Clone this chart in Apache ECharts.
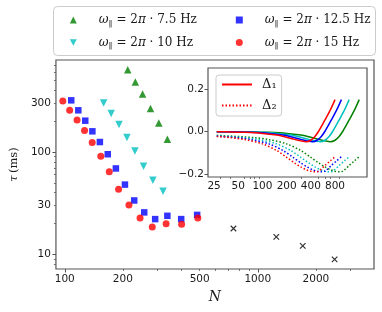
<!DOCTYPE html>
<html><head><meta charset="utf-8">
<script src="https://cdn.jsdelivr.net/npm/echarts@6/dist/echarts.min.js"></script>
<style>html,body{margin:0;padding:0;background:#fff}#c{width:382px;height:312px}</style>
</head><body><div id="c"></div>
<script>
// ---------- main panel data (N, tau in ms) ----------
const N_w75 = [212, 232, 253, 278, 307, 340];
const tau_w75 = [635, 481, 367, 265, 192, 133];
const N_w10 = [159, 174, 191, 210, 231, 256, 286, 323];
const tau_w10 = [300, 237, 185, 138, 102, 72.6, 53, 41.4];
const N_w125 = [108, 117.5, 127.7, 139, 152, 167, 184, 205, 229, 258, 294, 340, 401, 485];
const tau_w125 = [319, 255, 202, 159, 125, 95, 69, 48, 33.6, 25.7, 22.1, 23.8, 22.1, 24.3];
const N_w15 = [97.7, 106, 115.8, 126.6, 138.7, 153.7, 170, 190, 215, 245.5, 284, 335, 403, 489];
const tau_w15 = [314, 255, 205, 162, 124, 91, 64, 43.3, 30.4, 22.6, 18.5, 19.9, 19.7, 22.6];
const N_extra = [748, 1247, 1710, 2500];
const tau_extra = [17.9, 14.8, 12.1, 8.94];

// ---------- main panel axes ----------
const xRange = [90, 4000];
const yRange = [7.2, 790];
const xTickLabels = [100, 200, 500, 1000, 2000];
const xMajorTicks = [100, 1000];
const xMinorTicks = [200, 300, 400, 500, 600, 700, 800, 900, 2000, 3000];
const yTickLabels = [10, 30, 100, 300];
const yMajorTicks = [10, 100];
const yMinorTicks = [8, 9, 20, 30, 40, 50, 60, 70, 80, 90, 200, 300, 400, 500, 600, 700];
const freqLabels = ['7.5', '10', '12.5', '15'];

// ---------- inset data (Delta_1 solid, Delta_2 dotted) ----------
const N_red = [27, 40, 60, 100, 150, 200, 250, 300, 350, 400, 450, 500, 600, 700, 800];
const d1_red = [0.000, -0.001, -0.003, -0.008, -0.016, -0.026, -0.036, -0.043, -0.047, -0.040, -0.022, 0.002, 0.055, 0.102, 0.150];
const d2_red = [-0.022, -0.028, -0.037, -0.057, -0.088, -0.120, -0.146, -0.165, -0.178, -0.185, -0.188, -0.185, -0.158, -0.136, -0.117];
const N_blue = [27, 48, 72, 120, 180, 240, 300, 360, 420, 480, 540, 600, 720, 840, 960];
const d1_blue = [0.000, -0.001, -0.003, -0.008, -0.016, -0.026, -0.036, -0.043, -0.047, -0.040, -0.022, 0.002, 0.055, 0.102, 0.150];
const d2_blue = [-0.021, -0.028, -0.037, -0.057, -0.088, -0.120, -0.146, -0.165, -0.178, -0.185, -0.188, -0.185, -0.158, -0.136, -0.117];
const N_cyan = [27, 60, 90, 150, 225, 300, 375, 450, 525, 600, 675, 750, 900, 1050, 1200];
const d1_cyan = [0.000, -0.001, -0.003, -0.008, -0.016, -0.026, -0.036, -0.043, -0.047, -0.040, -0.022, 0.002, 0.055, 0.102, 0.150];
const d2_cyan = [-0.019, -0.028, -0.037, -0.057, -0.088, -0.120, -0.146, -0.165, -0.178, -0.185, -0.188, -0.185, -0.158, -0.136, -0.117];
const N_green = [27, 80, 120, 200, 300, 400, 500, 600, 700, 800, 900, 1000, 1200, 1400, 1600];
const d1_green = [0.000, -0.001, -0.003, -0.008, -0.016, -0.026, -0.036, -0.043, -0.047, -0.040, -0.022, 0.002, 0.055, 0.102, 0.150];
const d2_green = [-0.017, -0.028, -0.037, -0.057, -0.088, -0.120, -0.146, -0.165, -0.178, -0.185, -0.188, -0.185, -0.158, -0.136, -0.117];

const insetXRange = [21, 2000];
const insetYRange = [-0.212, 0.298];
const insetXLabels = [25, 50, 100, 200, 400, 800];
const insetXMinor = [30, 40, 60, 70, 80, 90, 300, 500, 600, 700, 900];
const insetYTicks = [-0.2, 0, 0.2];

// ---------- build ----------
const L = Math.log10;
const pairs = (xs, ys) => xs.map((x, i) => [L(x), L(ys[i])]);
const ipairs = (xs, ys) => xs.map((x, i) => [L(x), ys[i]]);
const fmtPow = v => String(Math.round(Math.pow(10, v)));
const AX = '#555', TXT = '#1a1a1a';
const tickFont = { fontFamily: 'DejaVu Sans', fontSize: 10.5, color: TXT };
const serif = 'DejaVu Serif';
const DOWN_TRI = 'path://M0,0L10,0L5,9Z';

const chart = echarts.init(document.getElementById('c'), null, { renderer: 'canvas' });

const mainSeries = [
  { name: '7.5', type: 'scatter', xAxisIndex: 0, yAxisIndex: 0, symbol: 'triangle', symbolSize: 7.5,
    itemStyle: { color: '#008000' }, data: pairs(N_w75, tau_w75) },
  { name: '10', type: 'scatter', xAxisIndex: 0, yAxisIndex: 0, symbol: 'triangle', symbolRotate: 180, symbolSize: 7.5,
    itemStyle: { color: '#00bfbf' }, data: pairs(N_w10, tau_w10) },
  { name: '12.5', type: 'scatter', xAxisIndex: 0, yAxisIndex: 0, symbol: 'rect', symbolSize: 6.5,
    itemStyle: { color: '#0000ff' }, data: pairs(N_w125, tau_w125) },
  { name: '15', type: 'scatter', xAxisIndex: 0, yAxisIndex: 0, symbol: 'circle', symbolSize: 7,
    itemStyle: { color: '#ff0000' }, data: pairs(N_w15, tau_w15) },
  { name: 'extra', type: 'scatter', xAxisIndex: 0, yAxisIndex: 0, symbol: 'path://M0,0L10,10M10,0L0,10', symbolSize: 5.5,
    itemStyle: { color: 'rgba(0,0,0,0)', borderColor: '#000', borderWidth: 1.2 }, data: pairs(N_extra, tau_extra) }
];

function insetLine(name, xs, ys, color, dotted) {
  return { name, type: 'line', xAxisIndex: 2, yAxisIndex: 2, symbol: 'none', smooth: 0.3,
    lineStyle: { color, width: 1.5, type: dotted ? [1.5, 2] : 'solid', cap: 'butt' },
    itemStyle: { color }, data: ipairs(xs, ys), z: 5 };
}
const insetSeries = [
  insetLine('Δ₂ g', N_green, d2_green, '#008000', true),
  insetLine('Δ₂ c', N_cyan, d2_cyan, '#00bfbf', true),
  insetLine('Δ₂ b', N_blue, d2_blue, '#0000ff', true),
  insetLine('Δ₂', N_red, d2_red, '#ff0000', true),
  insetLine('Δ₁ g', N_green, d1_green, '#008000', false),
  insetLine('Δ₁ c', N_cyan, d1_cyan, '#00bfbf', false),
  insetLine('Δ₁ b', N_blue, d1_blue, '#0000ff', false),
  insetLine('Δ₁', N_red, d1_red, '#ff0000', false)
];

const legendRich = {
  i: { fontFamily: serif, fontStyle: 'italic', fontSize: 12, color: TXT },
  s: { fontFamily: serif, fontSize: 8, color: TXT, padding: [7, 0, 0, 0] }
};
const legendFmt = n => '{i|ω}{s|‖} = 2{i|π} · ' + n + ' Hz';
const mainLegend = (data, left) => ({
  data, left, top: 14, orient: 'vertical', padding: 0, itemGap: 9, itemWidth: 7, itemHeight: 7,
  formatter: legendFmt, selectedMode: false,
  textStyle: { fontFamily: serif, fontSize: 12, color: TXT, rich: legendRich, padding: [0, 0, 0, 17] }
});

const option = {
  animation: false,
  backgroundColor: '#fff',
  graphic: [{ type: 'rect', left: 53, top: 6, shape: { width: 322, height: 49, r: 4 },
    style: { fill: '#fff', stroke: '#cccccc', lineWidth: 1 }, z: -1 }],
  legend: [
    mainLegend([{ name: freqLabels[0], icon: 'triangle' }, { name: freqLabels[1], icon: DOWN_TRI }], 69.8),
    mainLegend([{ name: freqLabels[2], icon: 'rect' }, { name: freqLabels[3], icon: 'circle' }], 235.8),
    { data: ['Δ₁', 'Δ₂'], left: 216, top: 75, orient: 'vertical', padding: [3, 5, 4, 5], itemGap: 8,
      itemWidth: 30, itemHeight: 14, selectedMode: false, backgroundColor: '#fff', borderColor: '#cccccc',
      borderWidth: 1, borderRadius: 3, z: 10, itemStyle: { opacity: 0 },
      textStyle: { fontFamily: serif, fontSize: 13, color: TXT, padding: [0, 0, 0, 5] } }
  ],
  grid: [
    { left: 53, top: 60, right: 8, bottom: 43, show: true, borderColor: AX, borderWidth: 1.2, backgroundColor: '#fff' },
    { left: 208, top: 68, right: 15, bottom: 135, show: true, borderColor: AX, borderWidth: 1.2, backgroundColor: '#fff', z: 3 }
  ],
  xAxis: [
    { type: 'value', gridIndex: 0, position: 'bottom', min: L(xRange[0]), max: L(xRange[1]), splitLine: { show: false },
      axisLine: { show: false },
      axisTick: { customValues: xMajorTicks.map(L), length: 3.5, lineStyle: { color: AX, width: 1 } },
      axisLabel: { customValues: xTickLabels.map(L), formatter: fmtPow, margin: 5, ...tickFont },
      name: 'N', nameLocation: 'middle', nameGap: 19,
      nameTextStyle: { fontFamily: serif, fontStyle: 'italic', fontSize: 14, color: TXT } },
    { type: 'value', gridIndex: 0, position: 'bottom', min: L(xRange[0]), max: L(xRange[1]), splitLine: { show: false },
      axisLine: { show: false }, axisLabel: { show: false },
      axisTick: { customValues: xMinorTicks.map(L), length: 2, lineStyle: { color: AX, width: 0.8 } } },
    { type: 'value', gridIndex: 1, position: 'bottom', min: L(insetXRange[0]), max: L(insetXRange[1]), splitLine: { show: false },
      axisLine: { show: false },
      axisTick: { customValues: insetXLabels.map(L), length: 3.5, lineStyle: { color: AX, width: 1 } },
      axisLabel: { customValues: insetXLabels.map(L), formatter: fmtPow, margin: 4, ...tickFont } },
    { type: 'value', gridIndex: 1, position: 'bottom', min: L(insetXRange[0]), max: L(insetXRange[1]), splitLine: { show: false },
      axisLine: { show: false }, axisLabel: { show: false },
      axisTick: { customValues: insetXMinor.map(L), length: 2, lineStyle: { color: AX, width: 0.8 } } }
  ],
  yAxis: [
    { type: 'value', gridIndex: 0, position: 'left', min: L(yRange[0]), max: L(yRange[1]), splitLine: { show: false },
      axisLine: { show: false },
      axisTick: { customValues: yMajorTicks.map(L), length: 3.5, lineStyle: { color: AX, width: 1 } },
      axisLabel: { customValues: yTickLabels.map(L), formatter: fmtPow, margin: 5, ...tickFont },
      name: '{i|τ}\u2009(ms)', nameLocation: 'middle', nameGap: 33,
      nameTextStyle: { fontFamily: serif, fontSize: 11.5, color: TXT,
        rich: { i: { fontFamily: serif, fontStyle: 'italic', fontSize: 11.5, color: TXT } } } },
    { type: 'value', gridIndex: 0, position: 'left', min: L(yRange[0]), max: L(yRange[1]), splitLine: { show: false },
      axisLine: { show: false }, axisLabel: { show: false },
      axisTick: { customValues: yMinorTicks.map(L), length: 2, lineStyle: { color: AX, width: 0.8 } } },
    { type: 'value', gridIndex: 1, position: 'left', min: insetYRange[0], max: insetYRange[1], splitLine: { show: false },
      axisLine: { show: false },
      axisTick: { customValues: insetYTicks, length: 3.5, lineStyle: { color: AX, width: 1 } },
      axisLabel: { customValues: insetYTicks, margin: 4, ...tickFont,
        formatter: v => (v < -1e-9 ? '\u2212' : '') + Math.abs(v).toFixed(1) } }
  ],
  series: mainSeries.concat(insetSeries)
};
chart.setOption(option);
</script></body></html>
